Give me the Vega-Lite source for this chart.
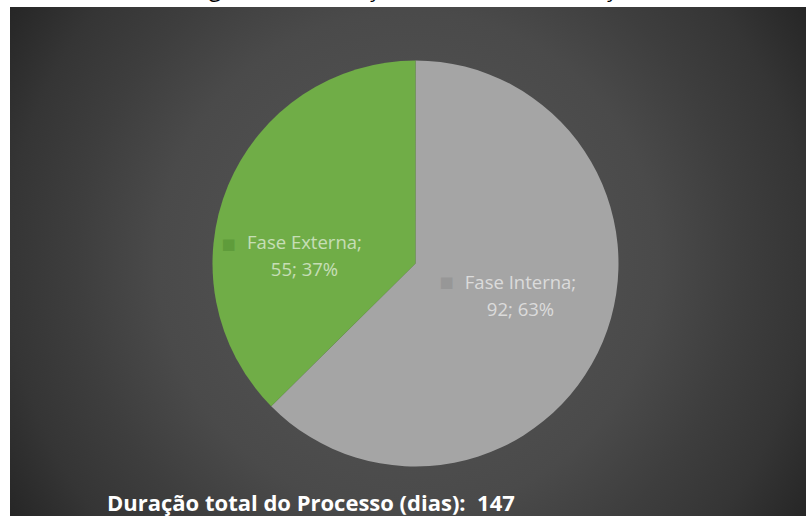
{
  "$schema": "https://vega.github.io/schema/vega-lite/v6.json",
  "autosize": {"type": "none"},
  "padding": {"left": 10, "top": 7, "right": 0, "bottom": 0},
  "background": "#ffffff",
  "width": 796,
  "height": 509,
  "title": {
    "text": "Figura 10 – Duração das fases da Licitação",
    "orient": "top",
    "anchor": "middle",
    "baseline": "alphabetic",
    "offset": -12,
    "dx": 8,
    "font": "Open Sans",
    "fontSize": 23,
    "fontWeight": "normal",
    "color": "#000000"
  },
  "data": {
    "values": [
      {"phase": "Fase Interna", "days": 92},
      {"phase": "Fase Externa", "days": 55}
    ]
  },
  "transform": [
    {"joinaggregate": [{"op": "sum", "field": "days", "as": "total"}]},
    {"calculate": "datum.phase + ';\\n' + datum.days + '; ' + format(datum.days / datum.total, '.0%')", "as": "label"}
  ],
  "layer": [
    {
      "data": {"values": [{"panel": "fundo"}]},
      "mark": {
        "type": "rect",
        "x": 0,
        "x2": "width",
        "y": 0,
        "y2": "height",
        "fill": {
          "gradient": "radial",
          "x1": 0.5, "y1": 0.5, "r1": 0,
          "x2": 0.5, "y2": 0.5, "r2": 0.593,
          "stops": [
            {"offset": 0, "color": "#585858"},
            {"offset": 0.53, "color": "#4a4a4a"},
            {"offset": 0.7, "color": "#3e3e3e"},
            {"offset": 0.85, "color": "#353535"},
            {"offset": 1, "color": "#262626"}
          ]
        }
      },
      "encoding": {}
    },
    {
      "mark": {
        "type": "arc",
        "outerRadius": 203,
        "stroke": null,
        "x": {"expr": "width / 2 + 7.5"},
        "y": {"expr": "height / 2 + 2"}
      },
      "encoding": {
        "theta": {"field": "days", "type": "quantitative", "stack": true},
        "order": {"field": "phase", "sort": "descending"},
        "color": {
          "field": "phase",
          "type": "nominal",
          "scale": {"domain": ["Fase Interna", "Fase Externa"], "range": ["#A5A5A5", "#70AD47"]},
          "legend": {
            "orient": "none",
            "legendX": 97,
            "legendY": 504,
            "padding": 0,
            "direction": "horizontal",
            "title": "Duração total do Processo (dias):\u00a0 147",
            "titleBaseline": "alphabetic",
            "titleFont": "Open Sans",
            "titleFontSize": 22,
            "titleFontWeight": "bold",
            "titleColor": "#ffffff",
            "titleLimit": 700,
            "titlePadding": 0,
            "symbolOpacity": 0,
            "symbolSize": 0,
            "symbolStrokeWidth": 0,
            "labelOpacity": 0,
            "labelFontSize": 1
          }
        }
      }
    },
    {
      "mark": {
        "type": "text",
        "radius": 110,
        "x": {"expr": "width / 2 + 7.5"},
        "y": {"expr": "height / 2 + 2"},
        "font": "Open Sans",
        "fontSize": 18.5,
        "lineBreak": "\n",
        "lineHeight": 27,
        "align": "center",
        "baseline": "middle",
        "fill": "#ffffff",
        "opacity": 0.6,
        "dx": {"expr": "datum.phase === 'Fase Externa' ? -9.5 : 3.5"},
        "dy": {"expr": "datum.phase === 'Fase Externa' ? 22 : -23"}
      },
      "encoding": {
        "theta": {"field": "days", "type": "quantitative", "stack": true},
        "order": {"field": "phase", "sort": "descending"},
        "text": {"field": "label", "type": "nominal"}
      }
    },
    {
      "mark": {
        "type": "text",
        "radius": 110,
        "x": {"expr": "width / 2 + 7.5"},
        "y": {"expr": "height / 2 + 2"},
        "font": "DejaVu Sans",
        "fontSize": 15,
        "align": "center",
        "baseline": "middle",
        "text": "■",
        "dx": {"expr": "datum.phase === 'Fase Externa' ? -85.5 : -70.5"},
        "dy": {"expr": "datum.phase === 'Fase Externa' ? 23.2 : -24.2"}
      },
      "encoding": {
        "theta": {"field": "days", "type": "quantitative", "stack": true},
        "order": {"field": "phase", "sort": "descending"},
        "color": {
          "condition": {"test": "datum.phase === 'Fase Externa'", "value": "#5f9c3b"},
          "value": "#979797"
        }
      }
    }
  ],
  "config": {
    "view": {"stroke": null}
  }
}
